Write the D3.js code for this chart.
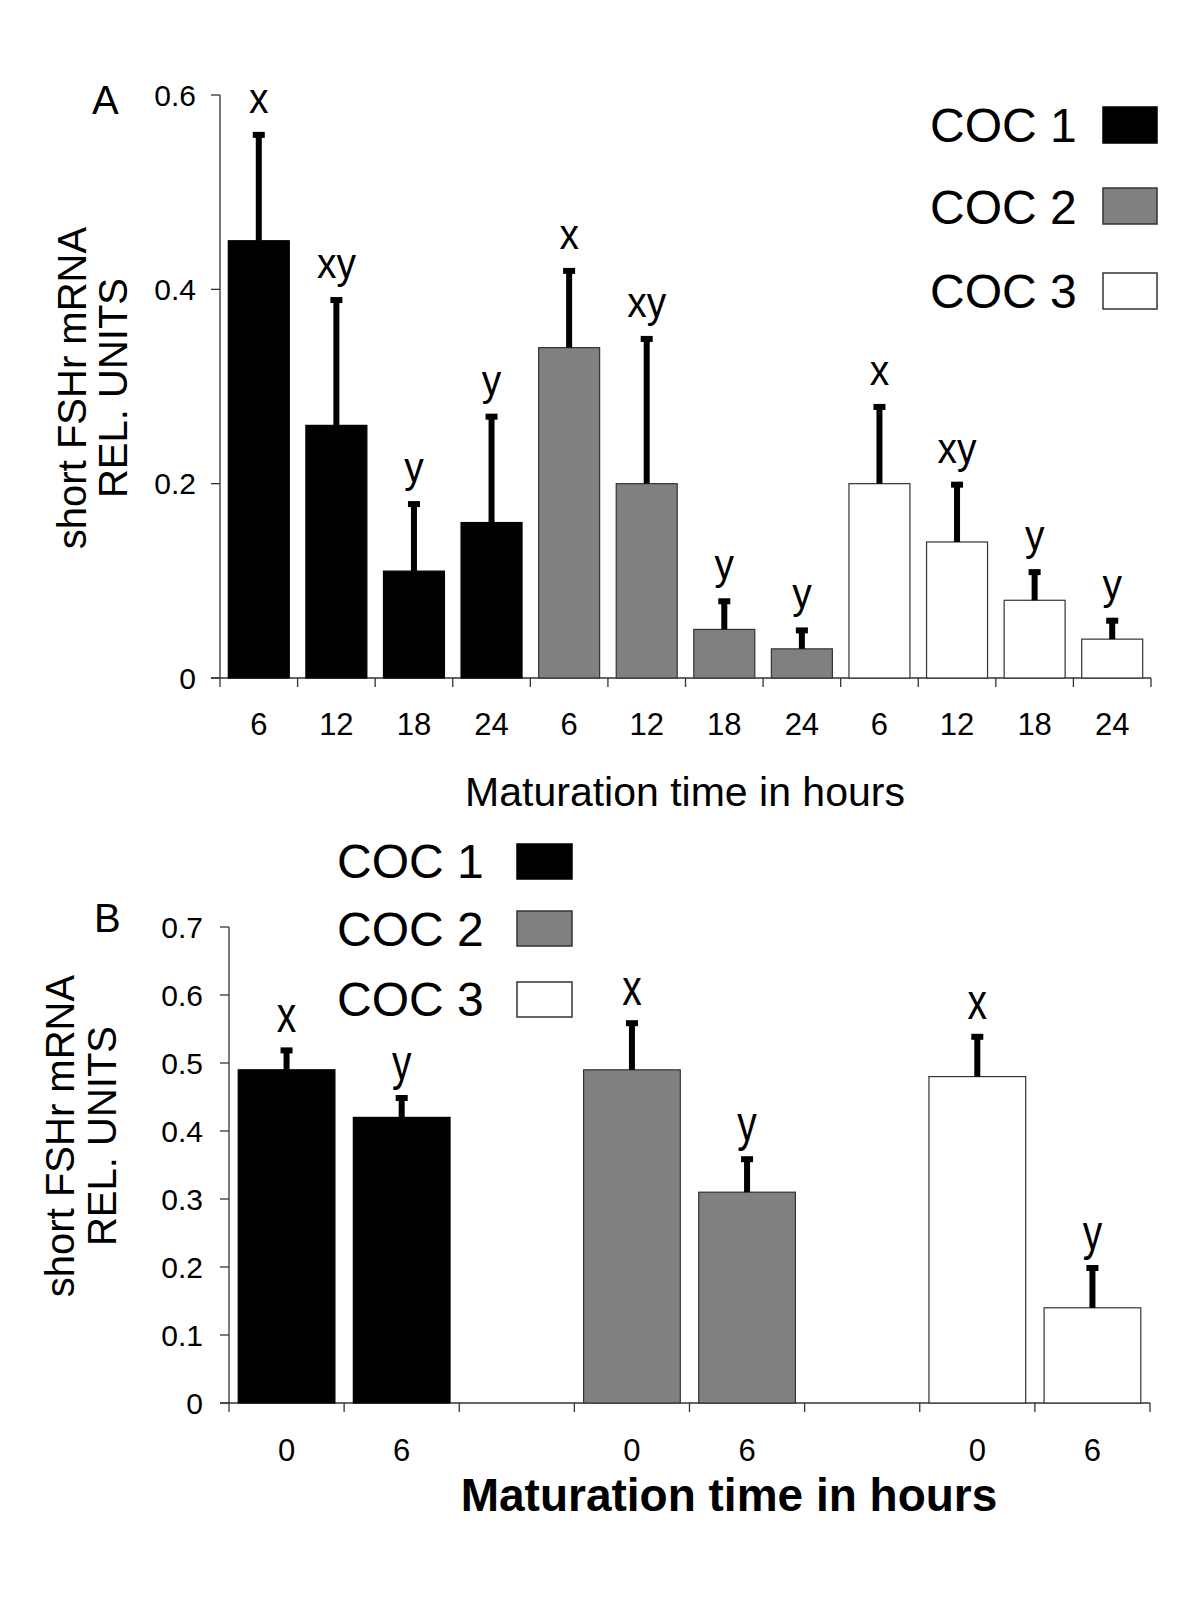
<!DOCTYPE html>
<html>
<head>
<meta charset="utf-8">
<script src="https://cdn.jsdelivr.net/npm/d3@7"></script>
<style>
  html, body { margin: 0; padding: 0; background: #fff; }
  text { font-family: "Liberation Sans", Arial, sans-serif; fill: #000; }
</style>
</head>
<body>
<script>
// ---------- DATA ----------
const groups = ["COC 1", "COC 2", "COC 3"];
const groupFills = ["#000000", "#808080", "#ffffff"];

// Panel A
const timesA = ["6", "12", "18", "24"];
const meansA = [
  [0.45, 0.26, 0.11, 0.16],
  [0.34, 0.20, 0.05, 0.03],
  [0.20, 0.14, 0.08, 0.04]
];
const errTopA = [
  [0.56, 0.39, 0.18, 0.27],
  [0.42, 0.35, 0.08, 0.05],
  [0.28, 0.20, 0.11, 0.06]
];
const lettersA = [
  ["x", "xy", "y", "y"],
  ["x", "xy", "y", "y"],
  ["x", "xy", "y", "y"]
];
const yTicksA = [0, 0.2, 0.4, 0.6];
const yTickLabelsA = ["0", "0.2", "0.4", "0.6"];

// Panel B
const timesB = ["0", "6"];
const meansB = [
  [0.49, 0.42],
  [0.49, 0.31],
  [0.48, 0.14]
];
const errTopB = [
  [0.52, 0.45],
  [0.56, 0.36],
  [0.54, 0.20]
];
const lettersB = [
  ["x", "y"],
  ["x", "y"],
  ["x", "y"]
];
const yTicksB = [0, 0.1, 0.2, 0.3, 0.4, 0.5, 0.6, 0.7];
const yTickLabelsB = ["0", "0.1", "0.2", "0.3", "0.4", "0.5", "0.6", "0.7"];

const yTitle1 = "short FSHr mRNA";
const yTitle2 = "REL. UNITS";
const xTitle = "Maturation time in hours";

// ---------- DRAW ----------
const svg = d3.select("body").append("svg")
  .attr("width", 1200).attr("height", 1600)
  .attr("viewBox", "0 0 1200 1600");

const axisColor = "#333";
const strokeFor = i => (i === 0 ? "#000" : "#333");

function drawPanel(opt) {
  const g = svg.append("g");
  const y = d3.scaleLinear().domain([0, opt.yMax]).range([opt.y0, opt.yTop]);
  const slots = d3.scaleBand().domain(opt.slotKeys).range([opt.x0, opt.x1]).padding(0);
  const bars = d3.scaleBand().domain(opt.slotKeys).range([opt.x0, opt.x1])
    .paddingInner(opt.pad).paddingOuter(opt.pad / 2);

  // y axis
  g.append("line").attr("x1", opt.x0).attr("x2", opt.x0)
    .attr("y1", y(0)).attr("y2", y(opt.yMax))
    .attr("stroke", axisColor).attr("stroke-width", 1.3);
  g.selectAll(".yt").data(opt.yTicks).join("line")
    .attr("x1", opt.x0 - 9).attr("x2", opt.x0)
    .attr("y1", d => y(d)).attr("y2", d => y(d))
    .attr("stroke", axisColor).attr("stroke-width", 1.3);
  g.selectAll(".ytl").data(opt.yTicks).join("text")
    .attr("x", opt.yLabelX).attr("y", d => y(d)).attr("dy", "0.36em")
    .attr("text-anchor", "end").attr("font-size", 30)
    .text((d, i) => opt.yTickLabels[i]);

  // x axis
  g.append("line").attr("x1", opt.x0 - 9).attr("x2", opt.x1)
    .attr("y1", y(0)).attr("y2", y(0))
    .attr("stroke", axisColor).attr("stroke-width", 1.3);
  const bounds = opt.slotKeys.map(k => slots(k)).concat([opt.x1]);
  g.selectAll(".xt").data(bounds).join("line")
    .attr("x1", d => d).attr("x2", d => d)
    .attr("y1", y(0)).attr("y2", y(0) + 9)
    .attr("stroke", axisColor).attr("stroke-width", 1.3);

  // bars
  opt.items.forEach(it => {
    const bx = bars(it.key), bw = bars.bandwidth();
    g.append("rect")
      .attr("x", bx).attr("y", y(it.mean))
      .attr("width", bw).attr("height", y(0) - y(it.mean))
      .attr("fill", groupFills[it.gi]).attr("stroke", strokeFor(it.gi)).attr("stroke-width", 1.2);
    const cx = bx + bw / 2;
    g.append("rect")
      .attr("x", cx - 3).attr("y", y(it.err))
      .attr("width", 6).attr("height", y(it.mean) - y(it.err))
      .attr("fill", "#000");
    g.append("rect")
      .attr("x", cx - 6).attr("y", y(it.err) - 2)
      .attr("width", 12).attr("height", 6)
      .attr("fill", "#000");
    const ly = y(it.err) - opt.letterGap;
    g.append("text")
      .attr("transform", `translate(${cx},${ly}) scale(1,${opt.letterScaleY})`)
      .attr("text-anchor", "middle").attr("font-size", 39)
      .text(it.letter);
    g.append("text")
      .attr("x", slots(it.key) + slots.bandwidth() / 2).attr("y", opt.xLabelY)
      .attr("text-anchor", "middle").attr("font-size", 31)
      .text(it.time);
  });

  // y title
  [[yTitle1, opt.yTitleX1], [yTitle2, opt.yTitleX2]].forEach(([t, x]) => {
    g.append("text")
      .attr("transform", `translate(${x},${opt.yTitleCY}) rotate(-90)`)
      .attr("text-anchor", "middle").attr("font-size", 40)
      .text(t);
  });

  // x title
  g.append("text")
    .attr("x", opt.xTitleX).attr("y", opt.xTitleY)
    .attr("text-anchor", "middle").attr("font-size", opt.xTitleSize)
    .attr("font-weight", opt.xTitleBold ? "bold" : "normal")
    .text(xTitle);

  // panel label
  g.append("text").attr("x", opt.labelX).attr("y", opt.labelY)
    .attr("font-size", 40).text(opt.label);

  // legend
  groups.forEach((name, i) => {
    g.append("text").attr("x", opt.legTextX).attr("y", opt.legBase[i])
      .attr("font-size", 48).text(name);
    g.append("rect").attr("x", opt.legRectX).attr("y", opt.legRectY[i])
      .attr("width", opt.legRectW).attr("height", opt.legRectH)
      .attr("fill", groupFills[i]).attr("stroke", strokeFor(i)).attr("stroke-width", 1.5);
  });
}

// Panel A items
const slotKeysA = [], itemsA = [];
groups.forEach((gname, gi) => timesA.forEach((t, ti) => {
  const key = gi + "-" + ti;
  slotKeysA.push(key);
  itemsA.push({ key, gi, time: t, mean: meansA[gi][ti], err: errTopA[gi][ti], letter: lettersA[gi][ti] });
}));

drawPanel({
  label: "A", labelX: 92, labelY: 114,
  yMax: 0.6, y0: 678, yTop: 95, yTicks: yTicksA, yTickLabels: yTickLabelsA, yLabelX: 196,
  x0: 220, x1: 1151, slotKeys: slotKeysA, pad: 0.214, items: itemsA,
  letterGap: 21, letterScaleY: 1.08, xLabelY: 735,
  yTitleX1: 86, yTitleX2: 127, yTitleCY: 388,
  xTitleX: 685, xTitleY: 806, xTitleSize: 41, xTitleBold: false,
  legTextX: 930, legBase: [142, 224, 308], legRectX: 1103, legRectY: [107, 188, 273], legRectW: 54, legRectH: 36
});

// Panel B items (with empty spacer slots between groups)
const slotKeysB = [], itemsB = [];
groups.forEach((gname, gi) => {
  timesB.forEach((t, ti) => {
    const key = gi + "-" + ti;
    slotKeysB.push(key);
    itemsB.push({ key, gi, time: t, mean: meansB[gi][ti], err: errTopB[gi][ti], letter: lettersB[gi][ti] });
  });
  if (gi < groups.length - 1) slotKeysB.push("gap" + gi);
});

drawPanel({
  label: "B", labelX: 94, labelY: 932,
  yMax: 0.7, y0: 1403, yTop: 927, yTicks: yTicksB, yTickLabels: yTickLabelsB, yLabelX: 203,
  x0: 229, x1: 1150, slotKeys: slotKeysB, pad: 0.16, items: itemsB,
  letterGap: 17, letterScaleY: 1.3, xLabelY: 1461,
  yTitleX1: 74, yTitleX2: 116, yTitleCY: 1136,
  xTitleX: 729, xTitleY: 1511, xTitleSize: 46, xTitleBold: true,
  legTextX: 337, legBase: [878, 946, 1016], legRectX: 517, legRectY: [844, 911, 982], legRectW: 55, legRectH: 35
});
</script>
</body>
</html>
